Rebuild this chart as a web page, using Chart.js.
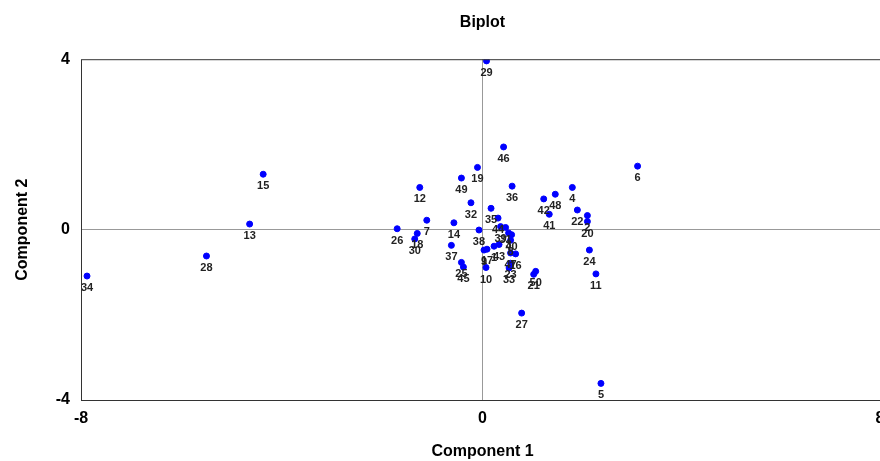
<!DOCTYPE html>
<html>
<head>
<meta charset="utf-8">
<script src="https://cdn.jsdelivr.net/npm/chart.js@4.4.1/dist/chart.umd.min.js"></script>
<style>
  html, body { margin: 0; padding: 0; background: #fff; overflow: hidden; }
  #wrap { width: 888px; height: 461px; }
</style>
</head>
<body>
<div id="wrap"><canvas id="biplot"></canvas></div>
<script>
const obsLabels = ['29', '46', '19', '49', '12', '36', '4', '48', '42', '41',
  '22', '2', '20', '24', '11', '6', '32', '35', '7', '14',
  '26', '18', '30', '38', '44', '39', '31', '3', '40', '8',
  '37', '9', '17', '1', '43', '47', '16', '23', '33', '10',
  '25', '45', '21', '50', '27', '15', '13', '28', '34', '5'];
const comp1 = [0.08, 0.42, -0.10, -0.42, -1.25, 0.59, 1.79, 1.45, 1.22, 1.33,
  1.89, 2.09, 2.09, 2.13, 2.26, 3.09, -0.23, 0.17, -1.11, -0.57,
  -1.70, -1.30, -1.35, -0.07, 0.31, 0.36, 0.46, 0.52, 0.58, 0.56,
  -0.62, 0.03, 0.09, 0.23, 0.33, 0.56, 0.66, 0.56, 0.53, 0.07,
  -0.42, -0.38, 1.02, 1.06, 0.78, -4.37, -4.64, -5.50, -7.88, 2.36];
const comp2 = [3.96, 1.94, 1.46, 1.21, 0.99, 1.02, 0.99, 0.83, 0.72, 0.36,
  0.46, 0.33, 0.19, -0.48, -1.04, 1.49, 0.63, 0.50, 0.22, 0.16,
  0.02, -0.09, -0.22, -0.01, 0.27, 0.07, 0.05, -0.08, -0.12, -0.25,
  -0.37, -0.48, -0.46, -0.39, -0.35, -0.55, -0.57, -0.79, -0.90, -0.89,
  -0.77, -0.88, -1.05, -0.98, -1.96, 1.30, 0.13, -0.62, -1.09, -3.61];
const xTicks = [-8, 0, 8];
const yTicks = [-4, 0, 4];

const points = comp1.map((v, i) => ({ x: v, y: comp2[i] }));

// labels under each point
const pointLabels = {
  id: 'pointLabels',
  afterDatasetsDraw(chart) {
    const ctx = chart.ctx;
    const meta = chart.getDatasetMeta(0);
    ctx.save();
    ctx.font = 'bold 11px "Liberation Sans", Arial, sans-serif';
    ctx.fillStyle = '#222';
    ctx.textAlign = 'center';
    ctx.textBaseline = 'middle';
    meta.data.forEach((pt, i) => {
      ctx.fillText(obsLabels[i], pt.x, pt.y + 12);
    });
    ctx.restore();
  }
};

// box around plot area
const frame = {
  id: 'frame',
  afterDraw(chart) {
    const a = chart.chartArea;
    const ctx = chart.ctx;
    ctx.save();
    ctx.strokeStyle = '#333';
    ctx.lineWidth = 1;
    ctx.strokeRect(a.left + 0.5, a.top + 0.5, a.right - a.left, a.bottom - a.top);
    ctx.restore();
  }
};

const tickFont = { family: '"Liberation Sans", Arial, sans-serif', size: 16, weight: 'bold' };
const titleFont = { family: '"Liberation Sans", Arial, sans-serif', size: 16, weight: 'bold' };

new Chart(document.getElementById('biplot'), {
  type: 'scatter',
  data: {
    datasets: [{
      data: points,
      backgroundColor: '#0000ff',
      borderColor: '#0000ff',
      pointRadius: 3,
      pointHoverRadius: 3,
    }],
  },
  options: {
    responsive: true,
    maintainAspectRatio: false,
    animation: false,
    layout: { padding: { left: 0, right: 1, top: 0, bottom: 0 } },
    plugins: {
      legend: { display: false },
      tooltip: { enabled: false },
      title: {
        display: true,
        fullSize: false,
        text: 'Biplot',
        color: '#000',
        font: titleFont,
        padding: { top: 13, bottom: 27 },
      },
    },
    scales: {
      x: {
        type: 'linear',
        min: -8,
        max: 8,
        afterBuildTicks: (s) => { s.ticks = xTicks.map(v => ({ value: v })); },
        afterFit: (s) => { s.height = 61; s.paddingRight = 0; s.paddingLeft = 0; },
        ticks: {
          color: '#000', font: tickFont, padding: 9, maxRotation: 0,
          // last label sits at the window edge, nudge it left a bit
          callback: (v) => (v === 8 ? '8\u2002' : String(v)),
        },
        grid: {
          drawTicks: false,
          color: (c) => (c.tick && c.tick.value === 0 ? '#999' : 'rgba(0,0,0,0)'),
        },
        border: { display: false },
        title: { display: true, text: 'Component 1', color: '#000', font: titleFont, padding: { top: 10, bottom: 0 } },
      },
      y: {
        type: 'linear',
        min: -4,
        max: 4,
        afterBuildTicks: (s) => { s.ticks = yTicks.map(v => ({ value: v })); },
        afterFit: (s) => { s.width = 81; },
        ticks: { color: '#000', font: tickFont, padding: 11 },
        grid: {
          drawTicks: false,
          color: (c) => (c.tick && c.tick.value === 0 ? '#999' : 'rgba(0,0,0,0)'),
        },
        border: { display: false },
        title: { display: true, text: 'Component 2', color: '#000', font: titleFont, padding: { top: 13, bottom: 10 } },
      },
    },
  },
  plugins: [pointLabels, frame],
});
</script>
</body>
</html>
